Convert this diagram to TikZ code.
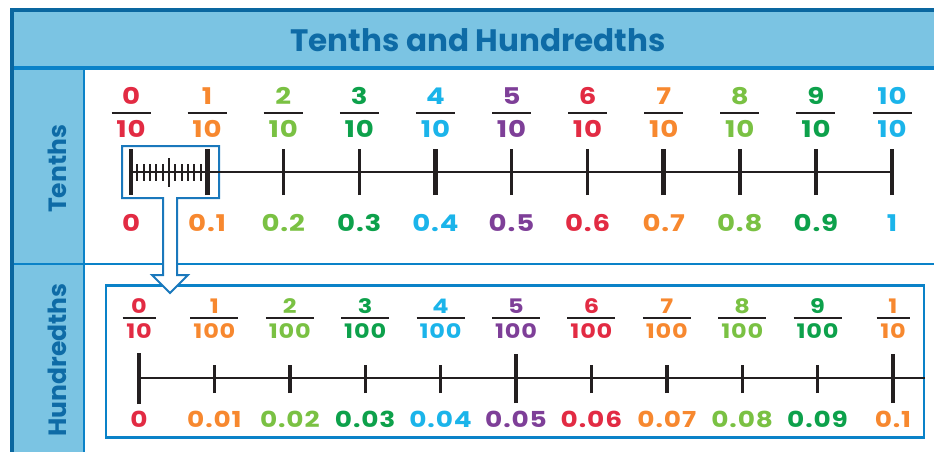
\documentclass[tikz,border=0pt]{standalone}
\usepackage{fontspec}
\setmainfont{Poppins}
\newfontfamily\numfont{Poppins}[FakeStretch=1.2, LetterSpace=4]
\usetikzlibrary{calc}
\definecolor{cred}{HTML}{E22B43}
\definecolor{corange}{HTML}{F7882F}
\definecolor{clgreen}{HTML}{7AC143}
\definecolor{cgreen}{HTML}{0DA14B}
\definecolor{ccyan}{HTML}{1BB4EA}
\definecolor{cpurple}{HTML}{7E3F98}
\definecolor{hdrfill}{HTML}{7BC4E3}
\definecolor{darkblue}{HTML}{0A67A0}
\definecolor{midblue}{HTML}{0A82C8}
\definecolor{titleblue}{HTML}{0E6BA6}
\definecolor{ink}{HTML}{231F20}
\definecolor{boxblue}{HTML}{1A78BC}
\tikzset{
  tnum/.style={inner sep=0pt, font=\numfont\fontsize{23}{23}\selectfont\bfseries},
  hnum/.style={inner sep=0pt, font=\numfont\fontsize{20}{20}\selectfont\bfseries},
  hdec/.style={inner sep=0pt, font=\numfont\fontsize{22}{22}\selectfont\bfseries},
  fracbar/.style={draw=ink, line width=2.4pt},
  axisline/.style={draw=ink, line width=2.4pt},
  ticknorm/.style={draw=ink, line width=3.4pt},
  tickbold/.style={draw=ink, line width=5pt},
  tickminor/.style={draw=ink, line width=1.9pt},
  sidelabel/.style={rotate=90, text=titleblue, font=\fontsize{25}{25}\selectfont\bfseries},
  frameline/.style={line width=2pt, draw=midblue},
}
\begin{document}
\begin{tikzpicture}[x=1pt, y=-1pt]
\useasboundingbox (0,0) rectangle (934,452);
% frame
\fill[hdrfill] (12,10) rectangle (934,68);
\fill[hdrfill] (12,68) rectangle (83,452);
\draw[frameline] (83.5,68) -- (83.5,452);
\draw[frameline] (12,264) -- (934,264);
\draw[line width=4pt, draw=midblue] (12,68) -- (934,68);
\draw[line width=4pt, draw=darkblue] (12,452) -- (12,10) -- (934,10);
\node[text=titleblue, font=\fontsize{31}{31}\selectfont\bfseries] (title) at (478,40) {Tenths and Hundredths};
\node[sidelabel] (lbltenths) at (57,169) {Tenths};
\node[sidelabel] (lblhund) at (57,360) {Hundredths};
% hundredths box
\node[draw=midblue, line width=2.5pt, minimum width=818pt, minimum height=152pt, inner sep=0pt] (hbox) at (515,361.5) {};
% highlight box with arrow
\draw[draw=boxblue, line width=2pt, fill=white, line join=miter]
  (163,198) -- (122,198) -- (122,146) -- (219,146) -- (219,198) -- (177,198)
  -- (177,275) -- (188,275) -- (170,293) -- (152,275) -- (163,275) -- cycle;
% tenths number line
\foreach \i in {0,...,10} {\coordinate (T\i) at ({131+76.1*\i},172);}
\draw[axisline] (T0) -- (T10);
\foreach \i/\w in {0/ticknorm,1/tickbold,2/ticknorm,3/ticknorm,4/tickbold,5/ticknorm,6/ticknorm,7/tickbold,8/ticknorm,9/ticknorm,10/ticknorm}{
  \draw[\w] ([yshift=-23pt]T\i) -- ([yshift=23pt]T\i);
}
\foreach \k in {1,...,11}{
  \coordinate (m\k) at ($(T0)!{\k/12}!(T1)$);
  \ifnum\k=6
    \draw[tickminor] ([yshift=-14.5pt]m\k) -- ([yshift=14.5pt]m\k);
  \else
    \draw[tickminor] ([yshift=-8.5pt]m\k) -- ([yshift=8.5pt]m\k);
  \fi
}
\foreach \i/\c/\n/\dec in {0/cred/0/0,1/corange/1/0.1,2/clgreen/2/0.2,3/cgreen/3/0.3,4/ccyan/4/0.4,5/cpurple/5/0.5,6/cred/6/0.6,7/corange/7/0.7,8/clgreen/8/0.8,9/cgreen/9/0.9,10/ccyan/10/1}{
  \node[tnum, text=\c] (tn\i) at ({131+76.1*\i},96) {\n};
  \node[tnum, text=\c] (td\i) at ({131+76.1*\i},129) {10};
  \draw[fracbar] ({131+76.1*\i-19.5},113) -- ({131+76.1*\i+19.5},113);
  \node[tnum, text=\c] (tdec\i) at ({131+76.1*\i},223) {\dec};
}
% hundredths number line
\foreach \i in {0,...,10} {\coordinate (H\i) at ({139+75.4*\i},378);}
\coordinate (Hend) at (hbox.east |- H0);
\draw[axisline] (H0) -- (Hend);
\foreach \i in {0,...,10}{
  \ifnum\i=0
    \draw[ticknorm] ([yshift=-26pt]H\i) -- ([yshift=25pt]H\i);
  \else\ifnum\i=5
    \draw[ticknorm] ([yshift=-25pt]H\i) -- ([yshift=24pt]H\i);
  \else\ifnum\i=10
    \draw[ticknorm] ([yshift=-25pt]H\i) -- ([yshift=24pt]H\i);
  \else
    \draw[ticknorm] ([yshift=-15pt]H\i) -- ([yshift=13pt]H\i);
  \fi\fi\fi
}
\foreach \i/\c/\n/\d/\bw/\dec in {0/cred/0/10/16.5/0,1/corange/1/100/24/0.01,2/clgreen/2/100/24/0.02,3/cgreen/3/100/24/0.03,4/ccyan/4/100/24/0.04,5/cpurple/5/100/24/0.05,6/cred/6/100/24/0.06,7/corange/7/100/24/0.07,8/clgreen/8/100/24/0.08,9/cgreen/9/100/24/0.09,10/corange/1/10/16.5/0.1}{
  \node[hnum, text=\c] (hn\i) at ({139+75.4*\i},306) {\n};
  \node[hnum, text=\c] (hd\i) at ({139+75.4*\i},331) {\d};
  \draw[fracbar] ({139+75.4*\i-\bw},318) -- ({139+75.4*\i+\bw},318);
  \node[hdec, text=\c] (hdec\i) at ({139+75.4*\i},419) {\dec};
}
\end{tikzpicture}
\end{document}
